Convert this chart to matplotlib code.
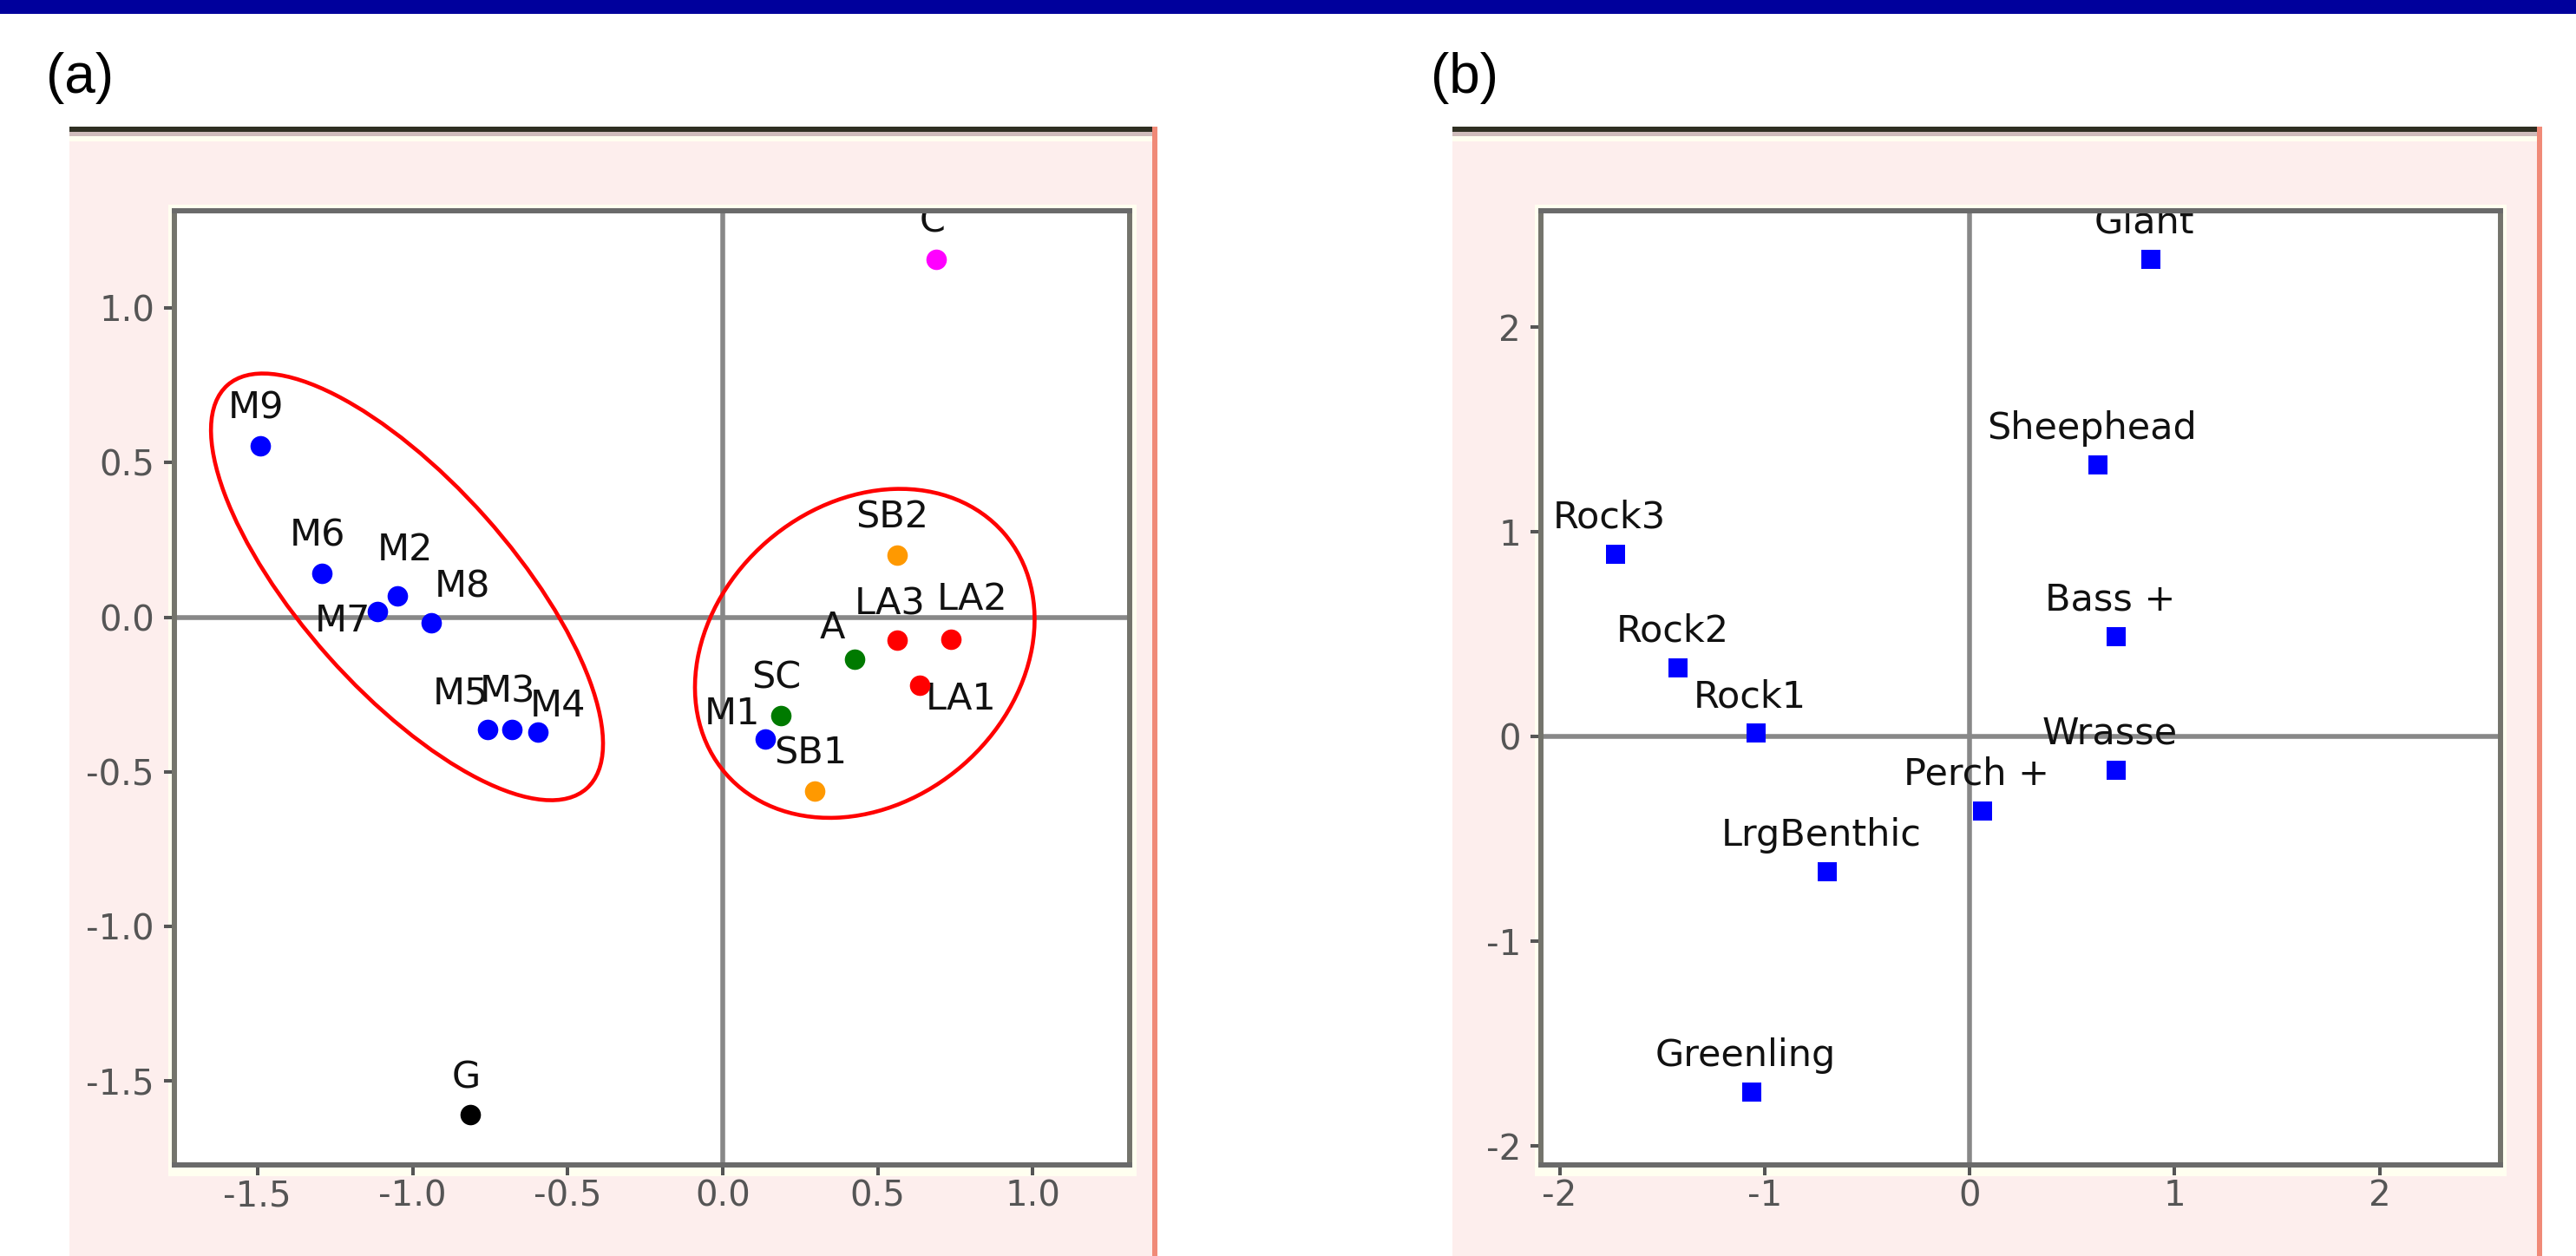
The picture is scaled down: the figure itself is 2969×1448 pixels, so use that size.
import matplotlib
matplotlib.use("Agg")
import matplotlib.pyplot as plt
from matplotlib.patches import Ellipse, Rectangle

W, H = 2969, 1448

# panel (a): site scores
site_names = ["M9", "M6", "M2", "M7", "M8", "M5", "M3", "M4", "M1",
              "SC", "A", "LA1", "LA2", "LA3", "SB1", "SB2", "C", "G"]
site_x = [-1.490, -1.293, -1.050, -1.112, -0.940, -0.759, -0.681, -0.596, 0.136,
          0.187, 0.424, 0.634, 0.735, 0.561, 0.297, 0.561, 0.689, -0.813]
site_y = [0.554, 0.143, 0.069, 0.018, -0.017, -0.362, -0.362, -0.372, -0.393,
          -0.318, -0.136, -0.220, -0.071, -0.075, -0.562, 0.201, 1.157, -1.609]
site_group = ["M"] * 9 + ["S", "S", "LA", "LA", "LA", "SB", "SB", "C", "G"]
group_color = {"M": "#0000ff", "S": "#007a00", "LA": "#ff0000",
               "SB": "#ff9900", "C": "#ff00ff", "G": "#000000"}

# panel (b): species scores
species_names = ["Giant", "Sheephead", "Rock3", "Bass +", "Rock2", "Rock1",
                 "Wrasse", "Perch +", "LrgBenthic", "Greenling"]
species_x = [0.883, 0.626, -1.727, 0.715, -1.421, -1.041, 0.715, 0.062, -0.694, -1.062]
species_y = [2.331, 1.327, 0.892, 0.488, 0.335, 0.016, -0.163, -0.363, -0.660, -1.739]

ticks_a = [-1.5, -1.0, -0.5, 0.0, 0.5, 1.0]
ticks_b = [-2, -1, 0, 1, 2]

# label nudges in pixels (right, up) where the labels were moved apart
nudge_a = {"M2": (9, 41), "M7": (-41, -23), "M8": (36, 29), "M5": (-31, 29),
           "M4": (23, 18), "M1": (-38, 17), "A": (-25, 24), "LA1": (48, -28),
           "LA2": (25, 34), "LA3": (-8, 30)}

fig = plt.figure(figsize=(W / 100, H / 100), dpi=100)


def px_rect(x0, y0, x1, y1, color, z=-1):
    fig.add_artist(Rectangle((x0 / W, 1 - y1 / H), (x1 - x0) / W, (y1 - y0) / H,
                             transform=fig.transFigure, facecolor=color,
                             lw=0, zorder=z))


# title band and panel backgrounds
px_rect(0, 0, W, 16, "#00009c")
for left, right in [(80, 1328), (1674, 2924)]:
    px_rect(left, 152, right, H, "#fdeeed")
    px_rect(left, 146, right + 6, 152, "#2f2f22")
    px_rect(left, 152, right, 157, "#cfbcbb")
    px_rect(left, 157, right, 163, "#fffff0")
    px_rect(right, 146, right + 6, H, "#f08a78")

px_rect(194, 236, 1310, 1356, "#fffff0", z=-0.5)
px_rect(1769, 236, 2889, 1356, "#fffff0", z=-0.5)

fig.text(53 / W, 1 - 107 / H, "(a)", fontsize=46, family="Liberation Sans",
         va="baseline", ha="left")
fig.text(1649 / W, 1 - 107 / H, "(b)", fontsize=46, family="Liberation Sans",
         va="baseline", ha="left")


def style_axes(ax, ticks, fmt):
    ax.set_facecolor("white")
    ax.axhline(0, color="#888888", lw=4.0, zorder=1)
    ax.axvline(0, color="#888888", lw=4.0, zorder=1)
    for side, sp in ax.spines.items():
        sp.set_linewidth(4.3)
        sp.set_color("#6a6a6a" if side in ("top", "bottom") else "#74746c")
    ax.set_xticks(ticks)
    ax.set_yticks(ticks)
    ax.set_xticklabels([fmt(t) for t in ticks])
    ax.set_yticklabels([fmt(t) for t in ticks])
    ax.tick_params(direction="out", length=8.6, width=2.9, color="#555555",
                   labelsize=29, labelcolor="#555555")
    ax.tick_params(axis="x", pad=3)
    ax.tick_params(axis="y", pad=8)


# panel (a)
ax1 = fig.add_axes([201 / W, 1 - 1343 / H, 1101 / W, 1100 / H])
style_axes(ax1, ticks_a, lambda t: f"{t:.1f}")
ax1.set_xlim(-1.768, 1.312)
ax1.set_ylim(-1.771, 1.314)

for name, x, y, g in zip(site_names, site_x, site_y, site_group):
    ax1.plot(x, y, "o", ms=17, color=group_color[g], mew=0, zorder=2.2)
    dx, dy = nudge_a.get(name, (-5, 31))
    ax1.annotate(name, (x, y), xytext=(dx, dy), textcoords="offset pixels",
                 ha="center", va="baseline", fontsize=31, color="#111111",
                 zorder=2, annotation_clip=False, clip_on=True)

ax1.add_patch(Ellipse((-1.018, 0.098), 1.744, 0.678, angle=-48.4,
                      fill=False, ec="#ff0000", lw=3.3, zorder=2.1))
ax1.add_patch(Ellipse((0.458, -0.117), 1.187, 0.960, angle=41,
                      fill=False, ec="#ff0000", lw=3.3, zorder=2.1))

# panel (b)
ax2 = fig.add_axes([1776 / W, 1 - 1343 / H, 1106 / W, 1100 / H])
style_axes(ax2, ticks_b, lambda t: f"{t:d}")
ax2.set_xlim(-2.091, 2.590)
ax2.set_ylim(-2.093, 2.568)

for name, x, y in zip(species_names, species_x, species_y):
    ax2.plot(x, y, "s", ms=16, color="#0000ff", mew=0, zorder=2.2)
    ax2.annotate(name, (x, y), xytext=(-7, 30), textcoords="offset pixels",
                 ha="center", va="baseline", fontsize=31, color="#111111",
                 zorder=2, annotation_clip=False, clip_on=True)

fig.savefig("out.png", dpi=100)
